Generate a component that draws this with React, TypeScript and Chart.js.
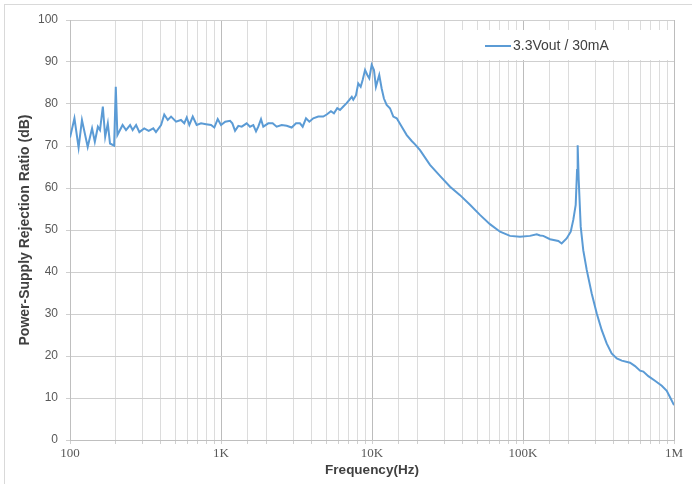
import React, { useEffect, useRef } from 'react';
import { Chart, registerables } from 'chart.js';

Chart.register(...registerables);

const seriesLabel = '3.3Vout / 30mA';
const xAxisTitle = 'Frequency(Hz)';
const yAxisTitle = 'Power-Supply Rejection Ratio (dB)';

const freqHz = [
  100, 107, 114, 120, 131, 140, 146, 153, 158, 165, 171, 178, 184, 196, 201, 206,
  223, 235, 250, 260, 274, 288, 310, 332, 356, 371, 401, 421, 444, 467, 504, 543,
  571, 593, 617, 650, 690, 738, 796, 859, 903, 951, 1000, 1067, 1148, 1189, 1239,
  1303, 1372, 1479, 1556, 1637, 1706, 1766, 1841, 1906, 2056, 2199, 2336, 2523,
  2723, 2938, 3140, 3334, 3475, 3656, 3846, 4083, 4406, 4755, 5012, 5346, 5598,
  5888, 6138, 6457, 6792, 7079, 7345, 7516, 7834, 8110, 8414, 8670, 8995, 9311,
  9594, 9954, 10304, 10617, 11169, 11588, 11995, 12503, 13152, 13836, 14581,
  15740, 16982, 18323, 19275, 20797, 24210, 28184, 32885, 38282, 44566, 51880,
  60395, 70469, 82035, 95499, 111173, 123310, 129718, 136144, 151008, 171396,
  180302, 194536, 207014, 215278, 223357, 228034, 230144, 233884, 241095, 250611,
  264241, 285102, 307610, 331894, 358096, 386365, 417830, 450817, 511682, 552077,
  595662, 626614, 676083, 748174, 829851, 895365, 950605, 1000000,
];

const psrrDb = [
  72, 76.6, 69.6, 76.2, 69.8, 74.2, 71, 74.6, 73.8, 79.4, 72.2, 75.4, 70.6, 70.1, 84.1, 72.6,
  75, 73.8, 75, 73.8, 75, 73.3, 74.2, 73.6, 74.2, 73.3, 75, 77.5, 76.2, 77, 75.8, 76.2,
  75.4, 76.8, 75, 77, 75, 75.4, 75.2, 75, 74.4, 76.4, 75, 75.8, 76, 75.4, 73.6,
  74.8, 74.6, 75.4, 74.6, 75, 73.5, 74.6, 76.4, 74.6, 75.4, 75.4, 74.6, 75,
  74.8, 74.4, 75.4, 75.4, 74.6, 76.6, 75.8, 76.6, 77, 77, 77.5, 78.3, 77.8,
  79, 78.6, 79.4, 80.2, 81, 81.7, 81, 82.1, 84.9, 84.1, 85.7, 88.1, 86.9,
  86.1, 89.3, 88.1, 84.1, 86.9, 83.7, 81.3, 79.8, 79, 77, 76.6,
  74.6, 72.6, 71.2, 70.4, 69, 65.5, 62.9, 60.3, 58.3, 56, 53.6,
  51.4, 49.6, 48.6, 48.4, 48.6, 49, 48.7, 48.6, 47.8, 47.4,
  46.8, 48, 49.6, 52.4, 56, 64.3, 70.2, 61.9, 50.8, 45.2,
  40.5, 34.9, 30.2, 26.2, 23, 20.6, 19.4, 18.9, 18.4, 17.6,
  16.5, 16.3, 15.2, 14.1, 12.9, 11.7, 9.9, 8.3,
];

const xDecadeValues = [100, 1000, 10000, 100000, 1000000];
const xDecadeLabels = ['100', '1K', '10K', '100K', '1M'];

const isDecade = (v: number) => xDecadeValues.some((d) => Math.abs(v - d) < d * 1e-6);

const legendPlugin = {
  id: 'customLegend',
  afterDatasetsDraw(chart: any) {
    const { ctx, chartArea } = chart;
    const ds = chart.data.datasets[0];
    const x0 = chartArea.left + 385;
    const y0 = chartArea.top + 10;
    const w = chartArea.right - 2 - x0;
    const h = 30;
    ctx.save();
    ctx.fillStyle = '#ffffff';
    ctx.fillRect(x0, y0, w, h);
    const cy = y0 + 16;
    ctx.strokeStyle = ds.borderColor;
    ctx.lineWidth = 2;
    ctx.beginPath();
    ctx.moveTo(x0 + 30, cy);
    ctx.lineTo(x0 + 56, cy);
    ctx.stroke();
    ctx.fillStyle = '#404040';
    ctx.font = '14px "Liberation Sans", sans-serif';
    ctx.textBaseline = 'middle';
    ctx.textAlign = 'left';
    ctx.fillText(ds.label, x0 + 58, cy);
    ctx.restore();
  },
};

export default function App() {
  const canvasRef = useRef<HTMLCanvasElement | null>(null);

  useEffect(() => {
    if (!canvasRef.current) return;
    const points = freqHz.map((f, i) => ({ x: f, y: psrrDb[i] }));
    const chart = new Chart(canvasRef.current, {
      type: 'line',
      data: {
        datasets: [
          {
            label: seriesLabel,
            data: points,
            borderColor: '#5b9bd5',
            borderWidth: 2,
            pointRadius: 0,
            tension: 0,
            fill: false,
          },
        ],
      },
      plugins: [legendPlugin],
      options: {
        animation: false,
        responsive: false,
        maintainAspectRatio: false,
        layout: { padding: { left: 0, right: 18, top: 20, bottom: 0 } },
        plugins: {
          legend: { display: false },
          tooltip: { enabled: false },
        },
        scales: {
          x: {
            type: 'logarithmic',
            min: 100,
            max: 1000000,
            afterFit: (scale: any) => {
              scale.height = 44;
            },
            border: { color: '#bfbfbf', width: 1 },
            grid: {
              color: (ctx: any) => (ctx.tick && isDecade(ctx.tick.value) ? '#bcbcbc' : '#dcdcdc'),
              tickLength: 4,
              tickColor: '#d0d0d0',
            },
            ticks: {
              autoSkip: false,
              maxRotation: 0,
              minRotation: 0,
              padding: 2,
              color: '#595959',
              font: { family: '"Liberation Serif", serif', size: 13 },
              callback: (value: any) => {
                const idx = xDecadeValues.findIndex((d) => Math.abs(Number(value) - d) < d * 1e-6);
                return idx >= 0 ? xDecadeLabels[idx] : '';
              },
            },
            title: {
              display: true,
              text: xAxisTitle,
              color: '#404040',
              font: { family: '"Liberation Sans", sans-serif', size: 13.5, weight: 'bold' },
              padding: { top: 0, bottom: 6 },
            },
          },
          y: {
            type: 'linear',
            min: 0,
            max: 100,
            afterFit: (scale: any) => {
              scale.width = 70;
            },
            border: { color: '#bfbfbf', width: 1 },
            grid: {
              color: '#cfcfcf',
              tickLength: 4,
              tickColor: '#cfcfcf',
            },
            ticks: {
              stepSize: 10,
              padding: 8,
              color: '#595959',
              font: { family: '"Liberation Sans", sans-serif', size: 12 },
            },
            title: {
              display: true,
              text: yAxisTitle,
              color: '#404040',
              font: { family: '"Liberation Sans", sans-serif', size: 14, weight: 'bold' },
              padding: { top: 17, bottom: 0 },
            },
          },
        },
      },
    } as any);
    return () => chart.destroy();
  }, []);

  return (
    <div
      style={{
        position: 'fixed',
        left: 0,
        top: 0,
        width: 692,
        height: 484,
        background: '#ffffff',
        overflow: 'hidden',
      }}
    >
      <div
        style={{
          position: 'absolute',
          left: 4,
          top: 4,
          width: 720,
          height: 520,
          border: '1px solid #d9d9d9',
          boxSizing: 'border-box',
        }}
      />
      <canvas
        ref={canvasRef}
        width={692}
        height={484}
        style={{ position: 'absolute', left: 0, top: 0, width: 692, height: 484 }}
      />
    </div>
  );
}
